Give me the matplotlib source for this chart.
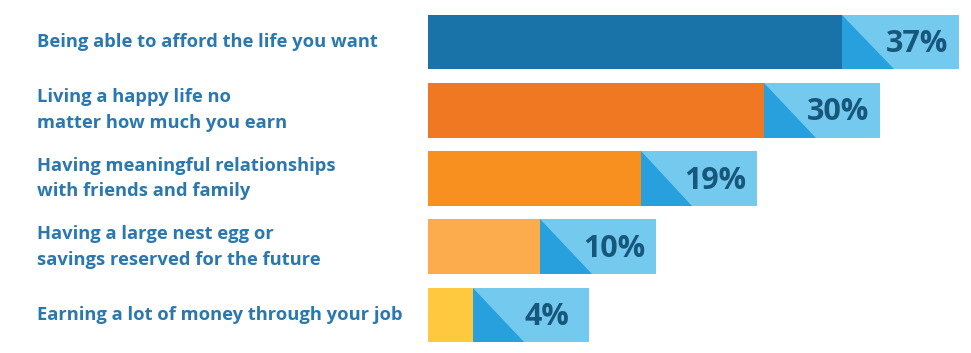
import matplotlib.pyplot as plt
import matplotlib.transforms as mtransforms
from matplotlib.patches import Polygon

labels = [
    'Being able to afford the life you want',
    'Living a happy life no\nmatter how much you earn',
    'Having meaningful relationships\nwith friends and family',
    'Having a large nest egg or\nsavings reserved for the future',
    'Earning a lot of money through your job',
]
values = [37, 30, 19, 10, 4]
bar_colors = ['#1a73a8', '#f07822', '#f7901f', '#fcac4c', '#fec93e']

box_w = 10.4      # light blue tag after each bar, in % units
tri_w = 4.6       # width of the darker triangle inside the tag
bar_h = 0.8

fig = plt.figure(figsize=(9.71, 3.53), dpi=100)
ax = fig.add_axes([428 / 971, 0, 543 / 971, 1])
ax.set_xlim(0, 543 / 11.2)
ax.set_ylim(4 + 38 / 68.25, -42 / 68.25)
ax.axis('off')

ypos = list(range(len(values)))
ax.barh(ypos, values, height=bar_h, color=bar_colors, linewidth=0)
ax.barh(ypos, [box_w] * len(values), left=values, height=bar_h,
        color='#74c9ef', linewidth=0)

for y, v in zip(ypos, values):
    tri = Polygon([(v, y - bar_h / 2), (v, y + bar_h / 2), (v + tri_w, y + bar_h / 2)],
                  closed=True, color='#27a0dd', linewidth=0)
    ax.add_patch(tri)
    ax.text(v + box_w * 0.64, y + 0.03, f'{v}%', ha='center', va='center',
            fontsize=22, fontweight='bold', family='Open Sans', color='#18577c')

trans = mtransforms.blended_transform_factory(fig.transFigure, ax.transData)
for y, lab in zip(ypos, labels):
    fig.text(37 / 971, y, lab, transform=trans, ha='left', va='center',
             fontsize=13.2, fontweight='bold', family='Open Sans',
             color='#2a78ad', linespacing=1.55)

fig.savefig('out.png', dpi=100)
